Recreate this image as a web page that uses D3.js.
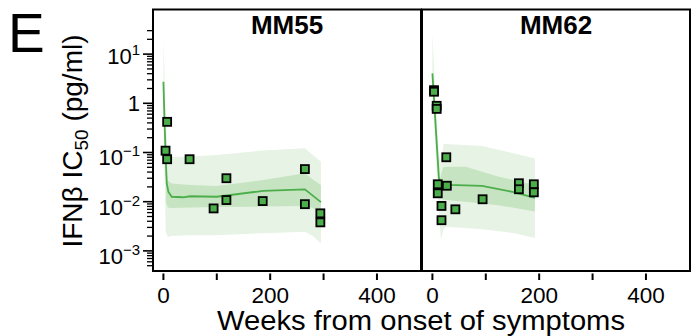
<!DOCTYPE html>
<html>
<head>
<meta charset="utf-8">
<script src="https://cdn.jsdelivr.net/npm/d3@7"></script>
<style>
  html, body { margin: 0; padding: 0; background: #fff; }
  svg text { font-family: "Liberation Sans", Arial, Helvetica, sans-serif; fill: #000; }
</style>
</head>
<body>
<svg id="chart" width="693" height="336"></svg>
<script>
// Observed IFNβ IC50 (pg/ml) per patient
const mm55Weeks = [4, 7, 7, 49, 94, 118, 118, 186, 265, 265, 294, 294];
const mm55Ic50  = [0.109, 0.42, 0.073, 0.073, 0.0073, 0.030, 0.0108, 0.0103, 0.046, 0.0089, 0.0058, 0.0038];

const mm62Weeks = [3, 3, 8, 8, 10, 10, 17, 17, 26, 27, 43, 94, 162, 162, 190, 190];
const mm62Ic50  = [1.85, 1.72, 0.89, 0.77, 0.0226, 0.0148, 0.0082, 0.0042, 0.080, 0.0211, 0.0070, 0.0112, 0.0237, 0.0179, 0.0226, 0.0155];

// Model fit: median curve
const mm55FitWeeks = [0, 2, 4.4, 6.3, 9.4, 15.6, 37, 50, 100, 187, 265, 295];
const mm55FitMedian = [2.75, 0.457, 0.0708, 0.0234, 0.0158, 0.0126, 0.0123, 0.0129, 0.0126, 0.0166, 0.0178, 0.0098];
const mm62FitWeeks = [0, 6, 12, 15, 30, 93, 150, 192];
const mm62FitMedian = [4.07, 0.355, 0.0316, 0.0229, 0.0219, 0.0209, 0.0158, 0.0120];

// Model fit: outer (95%) band
const mm55OuterWeeks = [0, 2, 4.4, 8, 15, 50, 100, 187, 265, 280, 295];
const mm55OuterHi = [20.9, 3.98, 0.501, 0.0891, 0.0813, 0.0832, 0.0891, 0.110, 0.122, 0.0891, 0.0646];
const mm55OuterLo = [1.0, 0.0316, 0.00251, 0.00191, 0.00200, 0.00209, 0.00209, 0.00229, 0.00245, 0.00200, 0.00141];
const mm62OuterWeeks = [0, 6, 12, 16, 21, 26, 93, 154, 192];
const mm62OuterHi = [26.3, 1.26, 0.1, 0.0562, 0.151, 0.148, 0.135, 0.0955, 0.0759];
const mm62OuterLo = [2.24, 0.1, 0.00631, 0.00166, 0.00282, 0.00309, 0.00275, 0.00229, 0.00182];

// Model fit: inner (50%) band
const mm55InnerWeeks = [5, 8, 15, 50, 100, 187, 265, 280, 295];
const mm55InnerHi = [0.0447, 0.0269, 0.0234, 0.0219, 0.0209, 0.0275, 0.0380, 0.0282, 0.0219];
const mm55InnerLo = [0.0100, 0.00759, 0.00741, 0.00759, 0.00776, 0.00794, 0.00813, 0.00741, 0.00575];
const mm62InnerWeeks = [14, 20, 26, 62, 123, 192];
const mm62InnerHi = [0.0282, 0.0501, 0.0513, 0.0513, 0.0324, 0.0219];
const mm62InnerLo = [0.0141, 0.0110, 0.0108, 0.0100, 0.00851, 0.00631];

// Axis ticks
const xTicks = [0, 100, 200, 300, 400];
const xTickLabels = [0, 200, 400];
const yMajorExps = [-3, -2, -1, 0, 1];
const panelNames = ["MM55", "MM62"];

const panels = [
  { name: panelNames[0], weeks: mm55Weeks, vals: mm55Ic50,
    fitW: mm55FitWeeks, fitM: mm55FitMedian,
    outW: mm55OuterWeeks, outHi: mm55OuterHi, outLo: mm55OuterLo,
    inW: mm55InnerWeeks, inHi: mm55InnerHi, inLo: mm55InnerLo },
  { name: panelNames[1], weeks: mm62Weeks, vals: mm62Ic50,
    fitW: mm62FitWeeks, fitM: mm62FitMedian,
    outW: mm62OuterWeeks, outHi: mm62OuterHi, outLo: mm62OuterLo,
    inW: mm62InnerWeeks, inHi: mm62InnerHi, inLo: mm62InnerLo }
];

const svg = d3.select("#chart");
const plotTop = 9.5, plotBottom = 271;
const panelLeft = [153, 422], panelWidth = 268;

const y = d3.scaleLog()
  .domain([Math.pow(10, -3.409), Math.pow(10, 1.907)])
  .range([plotBottom, plotTop]);

const green = "#4cae4a";
const lightBand = "#e7f3e5";
const darkBand = "#c6e4c1";

panels.forEach((p, i) => {
  const x = d3.scaleLinear().domain([-19.5, 482.5])
    .range([panelLeft[i], panelLeft[i] + panelWidth]);
  const g = svg.append("g");

  const outer = p.outW.map((w, k) => ({ w, hi: p.outHi[k], lo: p.outLo[k] }));
  const inner = p.inW.map((w, k) => ({ w, hi: p.inHi[k], lo: p.inLo[k] }));
  const area = d3.area().x(d => x(d.w)).y0(d => y(d.lo)).y1(d => y(d.hi));

  g.append("path").attr("d", area(outer)).attr("fill", lightBand);
  g.append("path").attr("d", area(inner)).attr("fill", darkBand);

  const med = p.fitW.map((w, k) => ({ w, v: p.fitM[k] }));
  g.append("path")
    .attr("d", d3.line().x(d => x(d.w)).y(d => y(d.v))(med))
    .attr("fill", "none").attr("stroke", green).attr("stroke-width", 1.8);

  const pts = p.weeks.map((w, k) => ({ w, v: p.vals[k] }));
  g.selectAll("rect.pt").data(pts).enter().append("rect")
    .attr("class", "pt")
    .attr("x", d => x(d.w) - 4).attr("y", d => y(d.v) - 4)
    .attr("width", 8).attr("height", 8)
    .attr("fill", green).attr("stroke", "#000").attr("stroke-width", 1.8);

  // panel frame
  g.append("rect")
    .attr("x", panelLeft[i]).attr("y", plotTop)
    .attr("width", panelWidth).attr("height", plotBottom - plotTop)
    .attr("fill", "none").attr("stroke", "#000").attr("stroke-width", 2);

  // panel title
  g.append("text")
    .attr("x", panelLeft[i] + panelWidth / 2).attr("y", 34)
    .attr("text-anchor", "middle")
    .attr("font-size", 26).attr("font-weight", "bold")
    .text(p.name);

  // x axis ticks and labels
  g.selectAll("line.xt").data(xTicks).enter().append("line")
    .attr("x1", d => x(d)).attr("x2", d => x(d))
    .attr("y1", 273.5).attr("y2", 280)
    .attr("stroke", "#000").attr("stroke-width", 2);
  g.selectAll("text.xl").data(xTickLabels).enter().append("text")
    .attr("x", d => x(d)).attr("y", 302.5)
    .attr("text-anchor", "middle").attr("font-size", 22.5)
    .text(d => d);
});

// y axis (on the left panel frame)
const ax = svg.append("g");
const axisX = 153;
const minorTicks = [];
for (let e = -4; e <= 1; e++) {
  for (let k = 2; k <= 9; k++) {
    const v = k * Math.pow(10, e);
    if (v >= 5e-4 && v <= 30) minorTicks.push(v);
  }
}
ax.selectAll("line.ymin").data(minorTicks).enter().append("line")
  .attr("x1", axisX - 6).attr("x2", axisX)
  .attr("y1", d => y(d)).attr("y2", d => y(d))
  .attr("stroke", "#000").attr("stroke-width", 1.3);
ax.selectAll("line.ymaj").data(yMajorExps).enter().append("line")
  .attr("x1", axisX - 10).attr("x2", axisX)
  .attr("y1", d => y(Math.pow(10, d))).attr("y2", d => y(Math.pow(10, d)))
  .attr("stroke", "#000").attr("stroke-width", 1.6);

yMajorExps.forEach(e => {
  const ty = y(Math.pow(10, e));
  const t = ax.append("text").attr("x", 140).attr("text-anchor", "end").attr("font-size", 22);
  if (e === 0) {
    t.attr("y", ty + 8).text("1");
  } else {
    t.attr("y", ty + (e > 0 ? 10 : 13));
    t.append("tspan").text("10");
    t.append("tspan").attr("font-size", 15).attr("dy", -9)
      .text(e < 0 ? "\u2212" + (-e) : String(e));
  }
});

// y axis title
const yt = svg.append("text")
  .attr("transform", "translate(82,141) rotate(-90)")
  .attr("text-anchor", "middle").attr("font-size", 28);
yt.append("tspan").text("IFN\u03b2 IC");
yt.append("tspan").attr("font-size", 19).attr("dy", 6).text("50");
yt.append("tspan").attr("dy", -6).text(" (pg/ml)");

// x axis title
svg.append("text")
  .attr("x", 421).attr("y", 330)
  .attr("text-anchor", "middle").attr("font-size", 27)
  .attr("textLength", 408).attr("lengthAdjust", "spacingAndGlyphs")
  .text("Weeks from onset of symptoms");

// panel letter
svg.append("text")
  .attr("x", 8).attr("y", 52)
  .attr("font-size", 55)
  .text("E");
</script>
</body>
</html>
